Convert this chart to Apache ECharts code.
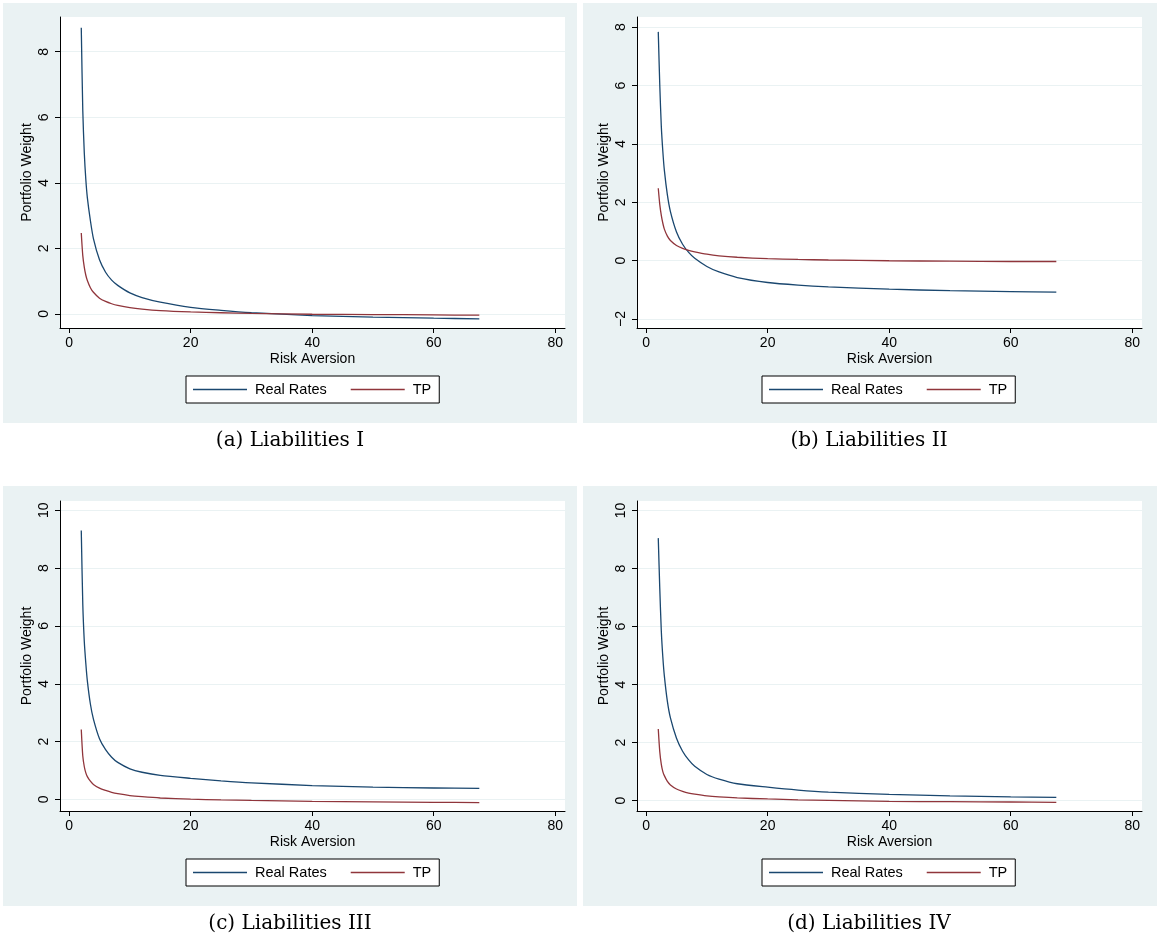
<!DOCTYPE html>
<html><head><meta charset="utf-8">
<script src="https://cdn.jsdelivr.net/npm/echarts@6/dist/echarts.min.js"></script>
<style>html,body{margin:0;padding:0;background:#fff}#c{width:1157px;height:942px}</style>
</head><body><div id="c"></div>
<script>
// ---------- data ----------
const riskAversion = [2, 2.25, 2.5, 2.75, 3, 3.5, 4, 5, 6, 7, 8, 10, 12, 15, 20, 25, 30, 40, 50, 60, 67.5];
const xTicks = [0, 20, 40, 60, 80];
const yTicksI = [0, 2, 4, 6, 8];
const yTicksII = [-2, 0, 2, 4, 6, 8];
const yTicksIII = [0, 2, 4, 6, 8, 10];
const yTicksIV = [0, 2, 4, 6, 8, 10];
const seriesNames = ['Real Rates', 'TP'];
const captions = ['(a) Liabilities I', '(b) Liabilities II', '(c) Liabilities III', '(d) Liabilities IV'];
const xTitle = 'Risk Aversion';
const yTitle = 'Portfolio Weight';

const realRatesI   = [8.73, 6.2, 4.9, 4.1, 3.55, 2.85, 2.3, 1.65, 1.27, 1.03, 0.87, 0.64, 0.50, 0.36, 0.20, 0.11, 0.04, -0.05, -0.10, -0.13, -0.15];
const tpI          = [2.47, 1.78, 1.42, 1.18, 1.02, 0.80, 0.66, 0.48, 0.38, 0.31, 0.26, 0.19, 0.145, 0.10, 0.06, 0.035, 0.015, -0.01, -0.02, -0.03, -0.04];
const realRatesII  = [7.84, 6.0, 4.6, 3.75, 3.1, 2.25, 1.68, 0.98, 0.56, 0.28, 0.08, -0.20, -0.39, -0.58, -0.75, -0.84, -0.90, -0.98, -1.03, -1.06, -1.08];
const tpII         = [2.48, 1.92, 1.55, 1.28, 1.08, 0.84, 0.69, 0.52, 0.42, 0.35, 0.30, 0.22, 0.165, 0.115, 0.065, 0.04, 0.02, -0.005, -0.02, -0.03, -0.03];
const realRatesIII = [9.3, 6.75, 5.45, 4.7, 4.1, 3.3, 2.78, 2.1, 1.72, 1.46, 1.28, 1.06, 0.94, 0.83, 0.73, 0.645, 0.575, 0.48, 0.425, 0.395, 0.38];
const tpIII        = [2.42, 1.5, 1.13, 0.92, 0.79, 0.63, 0.52, 0.39, 0.31, 0.245, 0.20, 0.135, 0.095, 0.05, 0.01, -0.015, -0.035, -0.065, -0.085, -0.10, -0.11];
const realRatesIV  = [9.05, 7.3, 5.85, 4.95, 4.3, 3.42, 2.85, 2.15, 1.70, 1.40, 1.18, 0.90, 0.74, 0.58, 0.46, 0.36, 0.29, 0.215, 0.165, 0.13, 0.11];
const tpIV         = [2.47, 1.68, 1.25, 1.0, 0.86, 0.66, 0.54, 0.40, 0.32, 0.26, 0.22, 0.16, 0.125, 0.09, 0.055, 0.025, 0.005, -0.025, -0.04, -0.05, -0.06];

// ---------- layout / style ----------
const SANS = '"Liberation Sans", Arial, Helvetica, sans-serif';
const SERIF = '"DejaVu Serif", "Liberation Serif", serif';
const NAVY = '#1a476f', MAROON = '#90353b', BG = '#eaf2f3';

const panels = [
  {rr: realRatesI,   tp: tpI,   yt: yTicksI,   ymin: -0.43, ymax: 9.06,  bg: [3, 3],   grid: [60, 17, 505, 311],  legend: [186, 376], cap: [290, 441]},
  {rr: realRatesII,  tp: tpII,  yt: yTicksII,  ymin: -2.31, ymax: 8.35,  bg: [583, 3], grid: [637, 17, 505, 311], legend: [762, 376], cap: [869, 441]},
  {rr: realRatesIII, tp: tpIII, yt: yTicksIII, ymin: -0.40, ymax: 10.32, bg: [3, 486], grid: [60, 501, 505, 310], legend: [186, 859], cap: [290, 924]},
  {rr: realRatesIV,  tp: tpIV,  yt: yTicksIV,  ymin: -0.36, ymax: 10.33, bg: [583, 486], grid: [637, 501, 505, 310], legend: [762, 859], cap: [869, 924]}
];

const fmtY = v => (v < 0 ? '\u2212' + (-v) : String(v));

const option = {
  animation: false,
  backgroundColor: '#fff',
  grid: [], xAxis: [], yAxis: [], series: [], legend: [], graphic: []
};

panels.forEach((p, i) => {
  option.graphic.push({type: 'rect', z: -100, shape: {x: p.bg[0], y: p.bg[1], width: 574, height: 420}, style: {fill: BG}});
  option.graphic.push({type: 'text', x: p.cap[0], y: p.cap[1], style: {text: captions[i], fill: '#000', font: '20px ' + SERIF, align: 'center', verticalAlign: 'middle', textAlign: 'center', textVerticalAlign: 'middle'}});
  option.grid.push({left: p.grid[0], top: p.grid[1], width: p.grid[2], height: p.grid[3], show: true, backgroundColor: '#fff', borderWidth: 0, containLabel: false});
  option.xAxis.push({
    type: 'value', gridIndex: i, min: -1.5, max: 81.6,
    name: xTitle, nameLocation: 'middle', nameGap: 24,
    nameTextStyle: {fontFamily: SANS, fontSize: 14, color: '#000'},
    axisLine: {show: true, onZero: false, lineStyle: {color: '#000', width: 1}},
    axisTick: {show: true, length: 5, customValues: xTicks, lineStyle: {color: '#000'}},
    axisLabel: {customValues: xTicks, margin: 8, fontFamily: SANS, fontSize: 14, color: '#000'},
    splitLine: {show: false}
  });
  option.yAxis.push({
    type: 'value', gridIndex: i, min: p.ymin, max: p.ymax,
    name: yTitle, nameLocation: 'middle', nameGap: 26, nameRotate: 90,
    nameTextStyle: {fontFamily: SANS, fontSize: 14, color: '#000'},
    axisLine: {show: true, onZero: false, lineStyle: {color: '#000', width: 1}},
    axisTick: {show: true, length: 5, customValues: p.yt, lineStyle: {color: '#000'}},
    axisLabel: {customValues: p.yt, rotate: 90, margin: 9, fontFamily: SANS, fontSize: 14, color: '#000', formatter: fmtY},
    splitLine: {show: true, lineStyle: {color: BG, width: 1}}
  });
  [[p.rr, NAVY], [p.tp, MAROON]].forEach(([vals, col], k) => {
    option.series.push({
      type: 'line', name: seriesNames[k], xAxisIndex: i, yAxisIndex: i,
      data: riskAversion.map((x, j) => [x, vals[j]]),
      symbol: 'none', showSymbol: false, smooth: 0.25,
      lineStyle: {color: col, width: 1.3}, itemStyle: {color: col}
    });
  });
  option.legend.push({
    data: seriesNames.map(n => ({name: n, icon: 'rect'})),
    left: p.legend[0], top: p.legend[1], orient: 'horizontal',
    itemWidth: 54, itemHeight: 1.5, itemGap: 24, padding: [5, 8, 5, 7],
    backgroundColor: '#fff', borderColor: '#000', borderWidth: 1, borderRadius: 0,
    selectedMode: false,
    textStyle: {fontFamily: SANS, fontSize: 14.5, color: '#000', padding: [0, 0, 0, 3], lineHeight: 17}
  });
});

const chart = echarts.init(document.getElementById('c'), null, {renderer: 'canvas'});
chart.setOption(option);
</script>
</body></html>
